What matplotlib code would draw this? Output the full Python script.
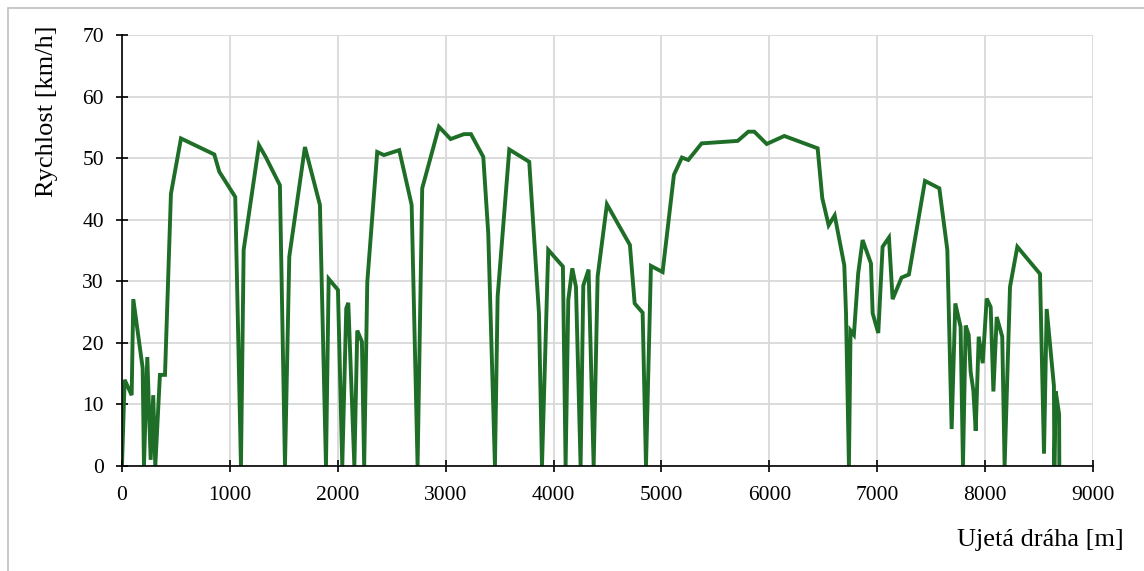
import matplotlib
matplotlib.use('Agg')
import matplotlib.pyplot as plt
from matplotlib.patches import Rectangle

# ujeta draha [m]
draha = [0, 25, 90, 105, 192, 204, 235, 266, 290, 309, 352, 399, 454, 547,
         856, 902, 1050, 1103, 1128, 1270, 1332, 1464, 1511, 1551, 1696, 1835,
         1891, 1916, 2002, 2042, 2079, 2098, 2154, 2181, 2224, 2245, 2274, 2366,
         2428, 2570, 2685, 2740, 2783, 2938, 3046, 3170, 3235, 3349, 3395, 3457,
         3482, 3590, 3775, 3865, 3893, 3951, 4087, 4112, 4137, 4174, 4208, 4251,
         4276, 4325, 4372, 4409, 4495, 4708, 4752, 4826, 4857, 4903, 5011, 5116,
         5190, 5249, 5373, 5707, 5806, 5861, 5976, 6139, 6448, 6491, 6550, 6606,
         6695, 6711, 6738, 6753, 6784, 6824, 6865, 6942, 6958, 7010, 7050, 7109,
         7143, 7226, 7294, 7443, 7576, 7650, 7690, 7724, 7773, 7795, 7820, 7848,
         7866, 7891, 7913, 7941, 7978, 8015, 8052, 8077, 8108, 8159, 8181, 8231,
         8299, 8509, 8546, 8571, 8638, 8642, 8655, 8686, 8688]

# rychlost [km/h]
rychlost = [0, 14.0, 11.5, 27.1, 15.9, 0, 17.7, 1.0, 11.5, 0, 14.8, 14.8, 44.2, 53.2,
            50.6, 47.8, 43.7, 0, 35.1, 52.1, 50.2, 45.6, 0, 34.0, 51.8, 42.4,
            0, 30.4, 28.6, 0, 25.6, 26.5, 0, 22.0, 20.2, 0, 29.9, 51.0,
            50.5, 51.3, 42.4, 0, 45.1, 55.1, 53.1, 53.9, 53.9, 50.2, 37.8, 0,
            27.5, 51.4, 49.4, 24.8, 0, 35.1, 32.4, 0, 27.0, 32.1, 29.1, 0,
            29.3, 31.9, 0, 30.8, 42.5, 35.9, 26.4, 24.9, 0, 32.5, 31.5, 47.3,
            50.1, 49.7, 52.4, 52.8, 54.3, 54.3, 52.3, 53.6, 51.6, 43.5, 39.1, 40.7,
            32.6, 24.8, 0, 22.0, 21.3, 31.3, 36.7, 32.9, 24.8, 21.6, 35.6, 37.1,
            27.1, 30.6, 31.1, 46.3, 45.1, 35.1, 6.0, 26.4, 22.6, 0, 22.8, 21.3,
            15.3, 12.3, 5.7, 21.0, 16.7, 27.2, 25.8, 12.1, 24.2, 21.0, 0, 29.1,
            35.6, 31.2, 2.0, 25.5, 13.0, 0, 12.1, 8.4, 0]

xticks = list(range(0, 9001, 1000))
yticks = list(range(0, 71, 10))

plt.rcParams['font.family'] = ['Liberation Serif', 'DejaVu Serif']

fig = plt.figure(figsize=(11.44, 5.71), dpi=100)
ax = fig.add_axes([0.1066, 0.1839, 0.8488, 0.7548])

# ramecek kolem celeho grafu
fig.patches.append(Rectangle((0.007, -0.05), 1.1, 1.036, transform=fig.transFigure,
                             fill=False, edgecolor='#bfbfbf', linewidth=1.2))

ax.plot(draha, rychlost, color='#1e6e27', linewidth=2.8, solid_joinstyle='miter')

ax.set_xlim(0, 9000)
ax.set_ylim(0, 70)
ax.set_xticks(xticks)
ax.set_yticks(yticks)
ax.grid(True, color='#d9d9d9', linewidth=1.3)
ax.set_axisbelow(True)

for s in ['top', 'right']:
    ax.spines[s].set_visible(False)
for s in ['left', 'bottom']:
    ax.spines[s].set_linewidth(1.2)
ax.tick_params(direction='inout', length=9, width=1.2, labelsize=15.5)
ax.tick_params(axis='x', pad=10)
ax.tick_params(axis='y', pad=8.5)

# popisky os
fig.text(0.041, 0.956, 'Rychlost [km/h]', rotation=90, ha='center', va='top', fontsize=19)
fig.text(0.982, 0.054, 'Ujetá dráha [m]', ha='right', va='center', fontsize=19)

fig.savefig('out.png', dpi=100)
